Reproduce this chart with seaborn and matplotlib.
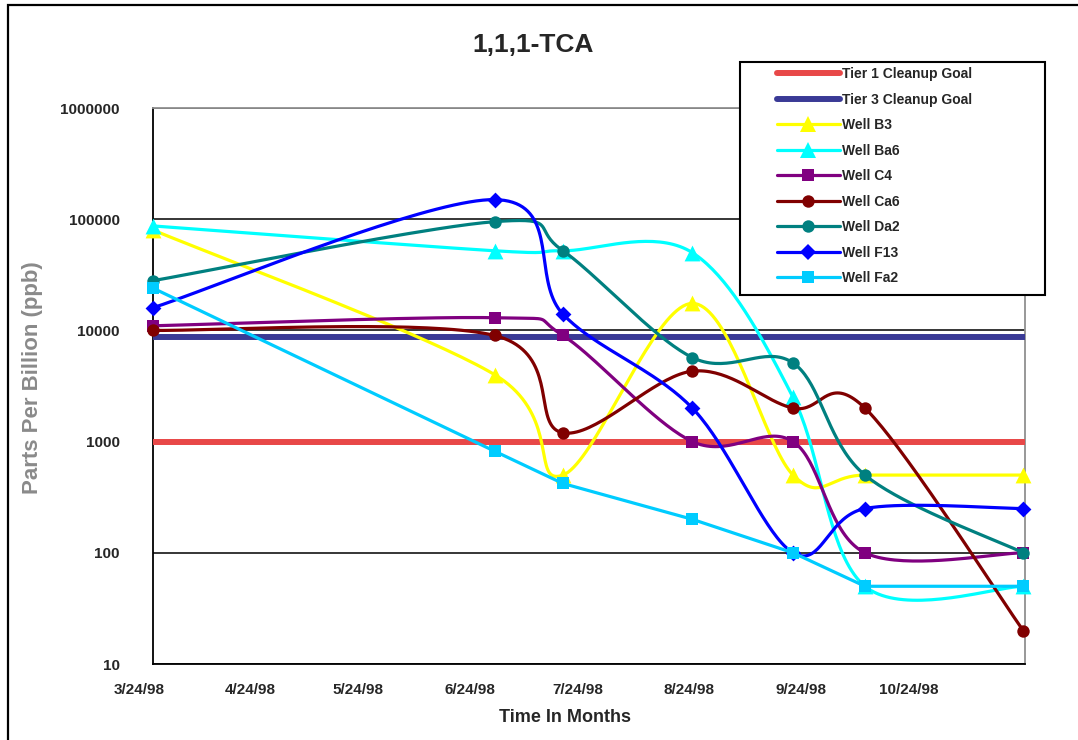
import numpy as np
import seaborn as sns
import matplotlib.pyplot as plt
import matplotlib.dates as mdates
from matplotlib.lines import Line2D
from matplotlib.patches import Rectangle
from matplotlib.ticker import FixedLocator, FixedFormatter, NullLocator
from matplotlib.transforms import ScaledTranslation

# sampling dates and concentrations (ppb)
sample_dates = ['1998-03-24', '1998-06-27', '1998-07-16', '1998-08-21',
                '1998-09-18', '1998-10-08', '1998-11-21']

well_b3 = [80000, 4000, 500, 17500, 500, 500, 500]
well_ba6 = [87000, 52000, 52000, 50000, 2500, 50, 50]
well_c4 = [11000, 13000, 9000, 1000, 1000, 100, 100]
well_ca6 = [10000, 9000, 1200, 4300, 2000, 2000, 20]
well_da2 = [28000, 95000, 52000, 5700, 5100, 500, 100]
well_f13 = [16000, 150000, 14000, 2000, 100, 250, 250]
well_fa2 = [24000, 820, 420, 200, 100, 50, 50]

tier1_goal = 1000
tier3_goal = 8800

tick_dates = ['1998-03-24', '1998-04-24', '1998-05-24', '1998-06-24',
              '1998-07-24', '1998-08-24', '1998-09-24', '1998-10-24']
tick_labels = ['3/24/98', '4/24/98', '5/24/98', '6/24/98',
               '7/24/98', '8/24/98', '9/24/98', '10/24/98']
y_ticks = [10, 100, 1000, 10000, 100000, 1000000]
y_labels = ['10', '100', '1000', '10000', '100000', '1000000']

sns.set_style('white')
plt.rcParams['font.family'] = ['Liberation Sans', 'DejaVu Sans']
plt.rcParams['font.weight'] = 'bold'


def smooth(x, y, n=40):
    # excel style smoothed line: bezier through points, done in (x, log y) space
    pts = np.column_stack([np.asarray(x, float), np.log10(y)])
    out = [pts[0]]
    t = np.linspace(0, 1, n)[1:, None]
    for i in range(len(pts) - 1):
        p0 = pts[i - 1] if i > 0 else pts[i]
        p1, p2 = pts[i], pts[i + 1]
        p3 = pts[i + 2] if i + 2 < len(pts) else pts[i + 1]
        c1 = p1 + (p2 - p0) / 6
        c2 = p2 - (p3 - p1) / 6
        seg = (1 - t)**3 * p1 + 3 * (1 - t)**2 * t * c1 + 3 * (1 - t) * t**2 * c2 + t**3 * p2
        out.extend(seg)
    out = np.array(out)
    return out[:, 0], 10 ** out[:, 1]


xd = mdates.datestr2num(sample_dates)
xt = mdates.datestr2num(tick_dates)

fig = plt.figure(figsize=(10.78, 7.40), dpi=100)
ax = fig.add_axes([153 / 1078, 1 - 664 / 740, 872 / 1078, 556 / 740])

# cleanup goals
for goal, col in [(tier1_goal, '#E84848'), (tier3_goal, '#3A3A96')]:
    sns.lineplot(x=[xd[0], xd[-1] + 0.5], y=[goal, goal], color=col, lw=4.3, ax=ax,
                 estimator=None, zorder=3)

wells = [
    ('Well B3', well_b3, '#FFFF00', '^', 130, True),
    ('Well Ba6', well_ba6, '#00FFFF', '^', 130, True),
    ('Well C4', well_c4, '#800080', 's', 85, True),
    ('Well Ca6', well_ca6, '#800000', 'o', 80, True),
    ('Well Da2', well_da2, '#008080', 'o', 80, True),
    ('Well F13', well_f13, '#0000FF', 'D', 65, True),
    ('Well Fa2', well_fa2, '#00CCFF', 's', 85, False),
]

z = 4
for name, vals, col, mk, size, smoothed in wells:
    if smoothed:
        sx, sy = smooth(xd, vals)
    else:
        sx, sy = xd, np.array(vals, float)
    sns.lineplot(x=sx, y=sy, sort=False, estimator=None, color=col, lw=2.3,
                 ax=ax, zorder=z)
    sns.scatterplot(x=xd, y=vals, marker=mk, s=size, color=col, linewidth=0,
                    ax=ax, zorder=z + 0.5, clip_on=False)
    z += 1

ax.set_yscale('log')
ax.set_ylim(10, 1000000)
ax.set_xlim(xd[0], xd[-1] + 0.5)
ax.yaxis.set_major_locator(FixedLocator(y_ticks))
ax.yaxis.set_major_formatter(FixedFormatter(y_labels))
ax.yaxis.set_minor_locator(NullLocator())
ax.xaxis.set_major_locator(FixedLocator(xt))
ax.xaxis.set_major_formatter(FixedFormatter(tick_labels))
ax.yaxis.grid(True, color='black', lw=1.1)
ax.xaxis.grid(False)
ax.set_axisbelow(True)

ax.tick_params(axis='both', direction='out', length=4, width=1.1, color='black',
               labelsize=11)
ax.tick_params(axis='y', pad=20)
ax.tick_params(axis='x', pad=10)
for lab in ax.get_xticklabels() + ax.get_yticklabels():
    lab.set_fontweight('bold')
for lab in ax.get_xticklabels():
    lab.set_transform(lab.get_transform() + ScaledTranslation(-0.14, 0, fig.dpi_scale_trans))

for side in ['left', 'bottom']:
    ax.spines[side].set_color('black')
    ax.spines[side].set_linewidth(1.3)
for side in ['top', 'right']:
    ax.spines[side].set_color('#909090')
    ax.spines[side].set_linewidth(1.3)

ax.set_xlabel('')
ax.set_ylabel('Parts Per Billion (ppb)', fontsize=16, color='#8a8a8a', fontweight='bold')
ax.yaxis.set_label_coords(-0.126, 0.515)

fig.text(533 / 1078, 1 - 45 / 740, '1,1,1-TCA', fontsize=19, fontweight='bold',
         ha='center', va='center')
fig.text(565 / 1078, 1 - 718 / 740, 'Time In Months', fontsize=13, fontweight='bold',
         ha='center', va='center')

# outer chart border (runs off the right and bottom edges)
fig.patches.append(Rectangle((8 / 1078, -0.5), 2, 0.5 + 735 / 740, transform=fig.transFigure,
                             fill=False, ec='black', lw=1.6, zorder=0))

# legend box
fig.patches.append(Rectangle((740 / 1078, 1 - 295 / 740), 305 / 1078, 233 / 740,
                             transform=fig.transFigure, fc='white', ec='black', lw=1.5, zorder=20))

handles = [Line2D([], [], color='#E84848', lw=4.3),
           Line2D([], [], color='#3A3A96', lw=4.3)]
for name, vals, col, mk, size, smoothed in wells:
    handles.append(Line2D([], [], color=col, lw=2.3, marker=mk, markersize=np.sqrt(size),
                          markeredgewidth=0))
labels = ['Tier 1 Cleanup Goal', 'Tier 3 Cleanup Goal'] + [w[0] for w in wells]
leg = fig.legend(handles, labels, loc='upper left', bbox_to_anchor=(777 / 1078, 1 - 67 / 740),
                 frameon=False, prop={'size': 10, 'weight': 'bold'}, borderpad=0,
                 borderaxespad=0, handlelength=4.5, handletextpad=0.15, labelspacing=0.83)
leg.set_zorder(21)

fig.savefig('out.png', dpi=100)
